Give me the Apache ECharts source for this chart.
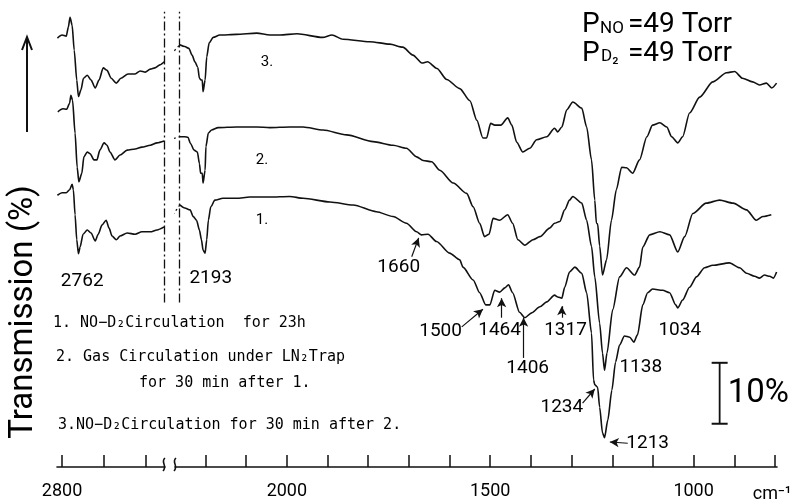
<!DOCTYPE html>
<html>
<head>
<meta charset="utf-8">
<title>IR spectra NO-D2</title>
<script src="https://cdn.jsdelivr.net/npm/echarts@6/dist/echarts.min.js"></script>
<style>
  html, body { margin: 0; padding: 0; background: #fff; }
  #chart { width: 797px; height: 503px; }
</style>
</head>
<body>
<div id="chart"></div>
<script>
// [wavenumber cm-1, transmission %] -- curves are offset vertically as in the figure
const curve1Left = [[2811,44.6],[2800,45.0],[2790,45.0],[2782,45.5],[2776,46.4],[2773,45.5],[2769,41.4],[2765,37.3],[2761,35.0],[2757,36.1],[2750,38.2],[2740,38.9],[2731,38.4],[2721,37.1],[2714,38.2],[2705,39.7],[2695,40.5],[2688,39.2],[2681,37.9],[2671,37.3],[2662,37.9],[2645,38.4],[2626,38.2],[2610,38.6],[2590,38.6],[2574,38.9],[2557,39.4]]
const curve2Left = [[2810,58.3],[2798,58.8],[2789,58.7],[2782,59.7],[2779,61.0],[2775,60.2],[2769,54.8],[2764,49.2],[2760,46.8],[2753,48.2],[2748,50.9],[2740,51.7],[2733,51.4],[2724,50.4],[2717,50.4],[2710,52.0],[2700,53.2],[2693,52.8],[2686,51.7],[2674,50.4],[2662,51.2],[2645,52.0],[2626,52.2],[2610,52.5],[2590,52.8],[2574,53.2],[2557,53.5]]
const curve3Left = [[2811,70.4],[2800,70.9],[2790,70.7],[2785,72.2],[2781,73.8],[2776,72.5],[2771,68.4],[2765,63.5],[2761,60.8],[2755,61.9],[2749,63.8],[2740,64.3],[2731,63.5],[2721,62.2],[2712,63.5],[2702,65.5],[2693,65.1],[2683,63.8],[2671,63.0],[2660,63.8],[2643,64.5],[2626,64.5],[2614,65.0],[2602,64.8],[2590,65.3],[2579,65.5],[2567,66.0],[2557,66.5]]

const curve1Right = [[2263,43.0],[2251,42.5],[2238,42.2],[2230,41.1],[2222,40.5],[2215,38.9],[2210,37.3],[2206,35.6],[2201,35.1],[2197,37.3],[2193,40.5],[2187,42.7],[2177,43.8],[2157,44.1],[2124,44.1],[2091,44.3],[2042,44.3],[1993,44.4],[1960,44.1],[1894,43.5],[1837,43.0],[1780,41.9],[1739,41.1],[1706,40.0],[1681,38.6],[1669,38.1],[1653,38.2],[1632,37.0],[1600,35.1],[1575,34.0],[1567,32.8],[1542,30.7],[1526,28.6],[1511,26.6],[1501,26.6],[1489,29.0],[1477,28.7],[1464,29.4],[1455,29.9],[1445,28.6],[1428,25.4],[1415,24.5],[1398,25.3],[1378,26.3],[1361,27.1],[1342,28.2],[1334,27.9],[1324,27.7],[1317,29.5],[1305,32.0],[1292,32.8],[1275,31.8],[1263,28.6],[1251,22.0],[1246,14.3],[1243,13.5],[1236,13.1],[1231,9.8],[1224,5.6],[1219,4.8],[1211,7.7],[1201,12.6],[1192,17.2],[1182,20.0],[1170,21.5],[1157,21.3],[1147,20.5],[1138,21.7],[1125,26.6],[1113,28.6],[1101,29.2],[1076,29.0],[1059,28.6],[1044,26.6],[1039,26.1],[1027,27.4],[1010,29.5],[993,31.2],[973,32.7],[953,33.1],[912,33.5],[887,32.7],[870,31.8],[850,31.3],[838,31.0],[826,31.5],[813,31.3],[804,31.0],[796,32.0]]
const curve2Right = [[2263,54.2],[2251,54.2],[2243,54.1],[2237,53.1],[2228,52.0],[2220,51.7],[2215,49.8],[2212,48.2],[2208,48.2],[2206,46.6],[2201,48.7],[2199,52.6],[2193,54.8],[2185,55.3],[2169,55.7],[2124,55.8],[2074,55.8],[2042,55.7],[1993,55.8],[1960,55.8],[1911,55.3],[1853,54.5],[1788,53.4],[1739,52.8],[1706,52.3],[1681,50.9],[1665,50.3],[1644,50.1],[1624,48.7],[1591,46.6],[1558,44.9],[1542,42.7],[1526,40.0],[1514,37.8],[1503,38.2],[1493,40.8],[1477,40.5],[1457,41.4],[1445,40.0],[1432,37.3],[1415,36.4],[1395,37.3],[1378,37.8],[1354,39.2],[1342,40.0],[1329,40.3],[1317,42.2],[1305,43.8],[1297,44.4],[1275,43.3],[1263,40.5],[1251,36.2],[1243,31.2],[1231,23.6],[1224,18.7],[1219,15.9],[1213,18.7],[1199,25.8],[1182,31.2],[1165,32.7],[1145,31.5],[1133,32.8],[1125,36.1],[1108,38.1],[1083,38.6],[1059,38.1],[1039,35.3],[1022,37.8],[1002,41.6],[969,43.3],[936,43.8],[903,43.3],[870,42.2],[846,40.5],[830,41.1],[809,41.4]]
const curve3Right = [[2263,69.3],[2251,69.0],[2241,68.7],[2233,67.6],[2226,66.5],[2219,65.6],[2215,63.8],[2211,63.5],[2208,63.5],[2206,61.6],[2201,63.5],[2197,67.3],[2191,69.6],[2181,70.5],[2165,70.9],[2124,71.0],[2074,71.2],[2042,70.9],[2017,70.9],[1975,71.1],[1912,70.5],[1889,70.9],[1862,70.2],[1796,69.8],[1747,69.4],[1715,68.9],[1690,67.6],[1668,66.3],[1654,66.5],[1631,65.4],[1607,63.6],[1575,62.1],[1550,60.1],[1533,56.9],[1518,54.0],[1509,54.0],[1499,56.4],[1489,56.1],[1474,56.1],[1457,57.3],[1447,56.1],[1435,53.3],[1420,51.7],[1403,52.3],[1386,53.7],[1361,54.2],[1342,55.6],[1334,55.0],[1324,55.8],[1312,58.6],[1297,59.9],[1275,58.9],[1263,55.8],[1251,50.4],[1243,43.8],[1239,40.0],[1236,39.9],[1231,36.3],[1224,31.5],[1214,34.0],[1202,40.5],[1190,45.5],[1177,49.2],[1165,49.1],[1150,48.2],[1133,50.4],[1115,54.2],[1101,56.1],[1083,56.5],[1066,55.8],[1054,54.2],[1039,53.2],[1027,54.2],[1010,58.1],[985,60.7],[953,63.2],[919,64.7],[899,64.9],[880,63.8],[855,63.2],[838,62.7],[821,63.0],[808,62.2],[796,63.0]]

const leftTicks = [2800, 2700, 2600]
const leftLabels = [2800]
const rightTicks = [2200, 2100, 2000, 1900, 1800, 1700, 1600, 1500, 1400, 1300, 1200, 1100, 1000, 900, 800]
const rightLabels = [2000, 1500, 1000]
const leftBreak = 2557   // end of recorded left part
const rightBreak = 2265  // start of recorded right part
const scaleBar = [[936, 7.1], [936, 17.1]]  // 10 % transmission

// band labels: text, wavenumber, T, grid (0 = left part)
const bandNotes = [
  ['2762', 2752, 30.5, 0], ['2193', 2187, 30.9, 1], ['1660', 1725, 32.7, 1],
  ['1500', 1622, 22.2, 1], ['1464', 1477, 22.5, 1], ['1406', 1408, 16.2, 1],
  ['1317', 1315, 22.5, 1], ['1234', 1324, 9.8, 1], ['1213', 1113, 3.9, 1],
  ['1138', 1130, 16.4, 1], ['1034', 1034, 22.5, 1]
]
const curveNames = [['3.', 2049, 66.5], ['2.', 2061, 50.4], ['1.', 2061, 40.5]]

const ink = '#000'
const numFont = 'Roboto, "DejaVu Sans", sans-serif'
const monoFont = '"DejaVu Sans Mono", monospace'
const chart = echarts.init(document.getElementById('chart'))

const curve = (name, data, idx) => ({
  name, type: 'line', xAxisIndex: idx, yAxisIndex: idx, data,
  symbol: 'none', smooth: 0.25, smoothMonotone: 'x', silent: true,
  lineStyle: { color: '#111', width: 1.6 }
})
const vline = (x) => ({
  symbol: 'none', silent: true, animation: false,
  label: { show: false },
  lineStyle: { color: '#111', width: 1.3, type: [9, 3, 2, 3] },
  data: [[{ coord: [x, 27] }, { coord: [x, 74.7] }]]
})
const arrow = (a, b) => [{ coord: a }, { coord: b }]
const txt = (x, y, text, size, font, extra) => ({
  type: 'text', x, y, silent: true,
  style: Object.assign({ text, fontSize: size, fontFamily: font, fill: ink, verticalAlign: 'middle' }, extra || {})
})

const axisCommon = {
  type: 'value', inverse: true,
  axisLine: { onZero: false, lineStyle: { color: '#111', width: 1.6 } },
  axisTick: { inside: true, length: 12, lineStyle: { color: '#111', width: 1.5 } },
  axisLabel: { color: ink, fontSize: 18, fontFamily: numFont, margin: 15, formatter: v => String(v) },
  splitLine: { show: false }
}

const s1 = curve('1', curve1Left, 0)
s1.markLine = vline(leftBreak)
const s4 = curve('1', curve1Right, 1)
s4.markLine = {
  symbol: ['none', 'arrow'], symbolSize: [7, 9], silent: true, animation: false,
  label: { show: false },
  lineStyle: { color: '#111', width: 1.2, type: 'solid' },
  data: [
    arrow([1693, 34.5], [1676, 37.6]),
    arrow([1570, 23.0], [1518, 25.9]),
    arrow([1472, 24.5], [1472, 27.7]),
    arrow([1418, 17.9], [1418, 24.5]),
    arrow([1324, 24.5], [1324, 26.4]),
    arrow([1273, 10.5], [1243, 12.8]),
    arrow([1162, 3.9], [1206, 4.1])
  ]
}
const s6 = curve('3', curve3Right, 1)
s6.markLine = vline(rightBreak)

const option = {
  animation: false,
  backgroundColor: '#fff',
  grid: [
    { left: 57, width: 108, top: 10, height: 457 },
    { left: 175, width: 602, top: 10, height: 457 }
  ],
  xAxis: [
    Object.assign({}, axisCommon, { gridIndex: 0, min: 2555, max: 2812,
      axisTick: Object.assign({}, axisCommon.axisTick, { customValues: leftTicks }),
      axisLabel: Object.assign({}, axisCommon.axisLabel, { customValues: leftLabels }) }),
    Object.assign({}, axisCommon, { gridIndex: 1, min: 795, max: 2275,
      axisTick: Object.assign({}, axisCommon.axisTick, { customValues: rightTicks }),
      axisLabel: Object.assign({}, axisCommon.axisLabel, { customValues: rightLabels }) })
  ],
  yAxis: [
    { gridIndex: 0, type: 'value', min: 0, max: 75, show: false },
    { gridIndex: 1, type: 'value', min: 0, max: 75, show: false }
  ],
  series: [
    s1,
    curve('2', curve2Left, 0),
    curve('3', curve3Left, 0),
    s4,
    curve('2', curve2Right, 1),
    s6,
    {
      type: 'line', xAxisIndex: 1, yAxisIndex: 1, data: scaleBar, silent: true,
      symbol: 'rect', symbolSize: [16, 2], itemStyle: { color: '#111' },
      lineStyle: { color: '#111', width: 1.8 }
    }
  ],
  graphic: [
    txt(582, 25, 'P', 28, numFont),
    txt(600, 29, 'NO', 17, numFont),
    txt(628, 25, '=49 Torr', 28, numFont),
    txt(582, 54, 'P', 28, numFont),
    txt(601, 57, 'D₂', 17, numFont),
    txt(628, 54, '=49 Torr', 28, numFont),

    { type: 'text', x: 24, y: 312, rotation: Math.PI / 2, silent: true,
      style: { text: 'Transmission (%)', fontSize: 33, fontFamily: numFont, fill: ink, align: 'center', verticalAlign: 'middle' } },
    { type: 'line', shape: { x1: 27, y1: 132, x2: 27, y2: 39 }, style: { stroke: '#111', lineWidth: 2 } },
    { type: 'polyline', shape: { points: [[22, 50], [27, 37], [32, 50]] }, style: { stroke: '#111', lineWidth: 2, fill: null } },

    txt(53, 323, '1. NO−D₂Circulation  for 23h', 15, monoFont),
    txt(56, 357, '2. Gas Circulation under LN₂Trap', 15, monoFont),
    txt(139, 383, 'for 30 min after 1.', 15, monoFont),
    txt(58, 425, '3.NO−D₂Circulation for 30 min after 2.', 15, monoFont),

    txt(772, 494, 'cm⁻¹', 18, numFont, { align: 'center' }),

    { type: 'bezierCurve', shape: { x1: 165, y1: 458, cpx1: 160, cpy1: 462, cpx2: 168, cpy2: 466, x2: 163, y2: 471 }, style: { stroke: '#111', lineWidth: 1.6, fill: null } },
    { type: 'bezierCurve', shape: { x1: 176, y1: 458, cpx1: 171, cpy1: 462, cpx2: 179, cpy2: 466, x2: 174, y2: 471 }, style: { stroke: '#111', lineWidth: 1.6, fill: null } }
  ]
}

chart.setOption(option)

// dotted links across the axis break: from the end of each left trace to the start of its right trace
const breakPx = chart.convertToPixel({ xAxisIndex: 0 }, leftBreak)
const breakOnRight = chart.convertFromPixel({ xAxisIndex: 1 }, breakPx)
const pairs = [[curve1Left, curve1Right], [curve2Left, curve2Right], [curve3Left, curve3Right]]
pairs.forEach(([l, r]) => {
  option.series.push({
    type: 'line', xAxisIndex: 1, yAxisIndex: 1, clip: false, symbol: 'none', silent: true,
    data: [[breakOnRight, l[l.length - 1][1]], r[0]],
    lineStyle: { color: '#111', width: 1.3, type: [2, 3] }
  })
})

// text notes placed through the axes
const center = { align: 'center' }
bandNotes.forEach(([t, x, y, g]) => {
  const p = chart.convertToPixel({ gridIndex: g }, [x, y])
  option.graphic.push(txt(p[0], p[1], t, 19, numFont, center))
})
curveNames.forEach(([t, x, y]) => {
  const p = chart.convertToPixel({ gridIndex: 1 }, [x, y])
  option.graphic.push(txt(p[0], p[1], t, 15, numFont, center))
})
const bar = chart.convertToPixel({ gridIndex: 1 }, scaleBar[0])
const barTop = chart.convertToPixel({ gridIndex: 1 }, scaleBar[1])
option.graphic.push(txt(bar[0] + 8, (bar[1] + barTop[1]) / 2, '10%', 33, numFont))

chart.setOption(option)
</script>
</body>
</html>
